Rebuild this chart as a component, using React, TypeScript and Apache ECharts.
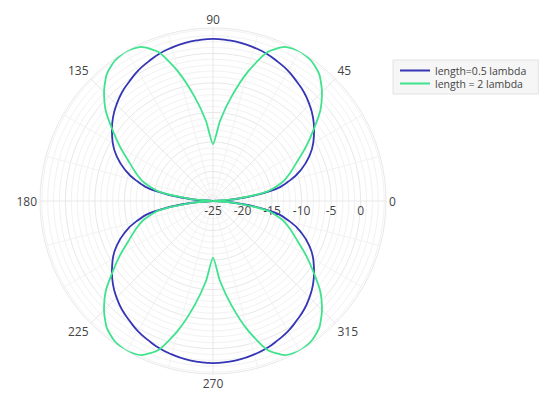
import React, { useEffect, useRef } from "react";
import * as echarts from "echarts";

const angles = [
  0, 5, 10, 15, 20, 25, 30, 35, 40, 45, 50, 55, 60, 65, 70, 75, 80, 85, 90,
  95, 100, 105, 110, 115, 120, 125, 130, 135, 140, 145, 150, 155, 160, 165, 170, 175, 180,
  185, 190, 195, 200, 205, 210, 215, 220, 225, 230, 235, 240, 245, 250, 255, 260, 265, 270,
  275, 280, 285, 290, 295, 300, 305, 310, 315, 320, 325, 330, 335, 340, 345, 350, 355, 360,
];

const halfWave = [
  -25, -21.1, -15.1, -11.5, -9.0, -7.0, -5.4, -4.1, -2.9, -1.9, -1.0, -0.3, 0.45, 1.0, 1.55, 1.9, 2.2, 2.35, 2.45,
  2.35, 2.2, 1.9, 1.55, 1.0, 0.45, -0.3, -1.0, -1.9, -2.9, -4.1, -5.4, -7.0, -9.0, -11.5, -15.1, -21.1, -25,
  -21.1, -15.1, -11.5, -9.0, -7.0, -5.4, -4.1, -2.9, -1.9, -1.0, -0.3, 0.45, 1.0, 1.55, 1.9, 2.2, 2.35, 2.45,
  2.35, 2.2, 1.9, 1.55, 1.0, 0.45, -0.3, -1.0, -1.9, -2.9, -4.1, -5.4, -7.0, -9.0, -11.5, -15.1, -21.1, -25,
];

const twoLambda = [
  -25, -21.3, -15.6, -12.9, -11.1, -9.3, -6.9, -4.3, -1.3, 1.1, 3.0, 4.0, 4.3, 3.8, 1.8, -2.4, -7.1, -11.4, -15.4,
  -11.4, -7.1, -2.4, 1.8, 3.8, 4.3, 4.0, 3.0, 1.1, -1.3, -4.3, -6.9, -9.3, -11.1, -12.9, -15.6, -21.3, -25,
  -21.3, -15.6, -12.9, -11.1, -9.3, -6.9, -4.3, -1.3, 1.1, 3.0, 4.0, 4.3, 3.8, 1.8, -2.4, -7.1, -11.4, -15.4,
  -11.4, -7.1, -2.4, 1.8, 3.8, 4.3, 4.0, 3.0, 1.1, -1.3, -4.3, -6.9, -9.3, -11.1, -12.9, -15.6, -21.3, -25,
];

const seriesNames = ["length=0.5 lambda", "length = 2 lambda"];
const seriesColors = ["#3535b5", "#3fe38e"];

export default function App() {
  const ref = useRef<HTMLDivElement>(null);
  useEffect(() => {
    if (!ref.current) return;
    const chart = echarts.init(ref.current, undefined, { renderer: "svg" });
    const font = "'Open Sans', 'Noto Sans', sans-serif";
    chart.setOption({
      animation: false,
      backgroundColor: "#ffffff",
      textStyle: { fontFamily: font },
      legend: {
        left: 393,
        top: 60,
        orient: "vertical",
        backgroundColor: "#f6f6f6",
        borderColor: "#e2e2e2",
        borderWidth: 1,
        padding: [4, 12, 4, 7],
        itemGap: 0,
        itemWidth: 30,
        itemHeight: 2,
        icon: "rect",
        textStyle: { fontSize: 10.5, color: "#444", fontFamily: font, lineHeight: 13 },
        data: seriesNames,
      },
      polar: { center: [213, 201], radius: 173 },
      angleAxis: {
        type: "value",
        min: 0,
        max: 360,
        interval: 45,
        startAngle: 0,
        clockwise: false,
        axisLine: { show: false },
        axisTick: { show: false },
        axisLabel: {
          color: "#444",
          fontSize: 12,
          fontFamily: font,
          margin: 3,
          formatter: (v: number) => (v === 360 ? "" : String(v)),
        },
        splitLine: { show: true, lineStyle: { color: "#e8e8e8", width: 1 } },
        minorTick: { show: false, splitNumber: 3 },
        minorSplitLine: { show: true, lineStyle: { color: "#f2f2f2", width: 1 } },
      },
      radiusAxis: {
        type: "value",
        min: -25,
        max: 4.3,
        interval: 5,
        axisLine: { show: false },
        axisTick: { show: false },
        axisLabel: {
          color: "#444",
          fontSize: 12,
          fontFamily: font,
          margin: -3,
          verticalAlign: "top",
          formatter: (v: number) => (v <= 0 && v % 5 === 0 ? String(v) : ""),
        },
        splitLine: { show: true, lineStyle: { color: "#e8e8e8", width: 1 } },
        minorTick: { show: false, splitNumber: 5 },
        minorSplitLine: { show: true, lineStyle: { color: "#f2f2f2", width: 1 } },
      },
      series: [
        {
          name: seriesNames[0],
          type: "line",
          coordinateSystem: "polar",
          showSymbol: false,
          symbol: "none",
          smooth: true,
          lineStyle: { color: seriesColors[0], width: 1.8 },
          itemStyle: { color: seriesColors[0] },
          data: angles.map((a, i) => [halfWave[i], a]),
        },
        {
          name: seriesNames[1],
          type: "line",
          coordinateSystem: "polar",
          showSymbol: false,
          symbol: "none",
          smooth: 0.2,
          lineStyle: { color: seriesColors[1], width: 1.8 },
          itemStyle: { color: seriesColors[1] },
          data: angles.map((a, i) => [twoLambda[i], a]),
        },
      ],
    });
    return () => chart.dispose();
  }, []);
  return (
    <div
      ref={ref}
      style={{ position: "absolute", left: 0, top: 0, width: 550, height: 400 }}
    />
  );
}
